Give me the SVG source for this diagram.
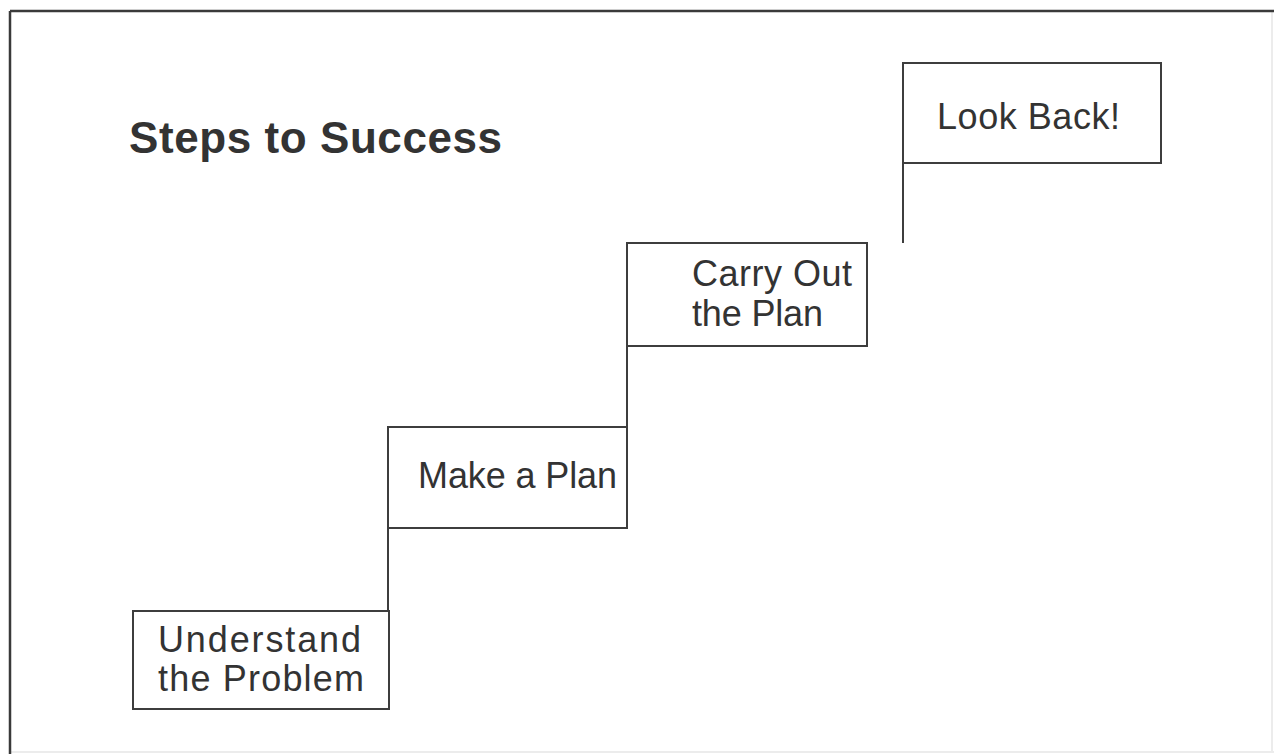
<svg xmlns="http://www.w3.org/2000/svg" width="1274" height="754" viewBox="0 0 1274 754">
  <style>
    .frame { stroke: #3a3a3a; stroke-width: 2.5; fill: none; }
    .faint { stroke: #ececec; stroke-width: 2; fill: none; }
    .step { fill: #ffffff; stroke: #3d3d3d; stroke-width: 2; }
    .riser { stroke: #3d3d3d; stroke-width: 2; fill: none; }
    .label { font-family: "Liberation Sans", Arial, sans-serif; font-size: 36px; fill: #333333; }
    .title { font-family: "Liberation Sans", Arial, sans-serif; font-size: 44px; font-weight: bold; fill: #333333; }
  </style>
  <rect width="1274" height="754" fill="#ffffff"/>

  <!-- page frame -->
  <g id="frame">
    <line class="faint" x1="10" y1="752" x2="1274" y2="752"/>
    <line class="faint" x1="1272" y1="11" x2="1272" y2="752"/>
    <line class="frame" x1="10" y1="11" x2="1274" y2="11"/>
    <line class="frame" x1="10" y1="11" x2="10" y2="754"/>
  </g>

  <text id="title" class="title" x="129" y="153" textLength="373" lengthAdjust="spacing">Steps to Success</text>

  <!-- risers joining each step to the next -->
  <g id="connectors">
    <line class="riser" x1="388" y1="528" x2="388" y2="611"/>
    <line class="riser" x1="627" y1="346" x2="627" y2="427"/>
    <line class="riser" x1="903" y1="163" x2="903" y2="243"/>
  </g>

  <g id="step-understand">
    <rect class="step" x="133" y="611" width="256" height="98"/>
    <text class="label" x="158" y="652" textLength="203" lengthAdjust="spacing">Understand</text>
    <text class="label" x="158" y="691" textLength="206" lengthAdjust="spacing">the Problem</text>
  </g>

  <g id="step-make-plan">
    <rect class="step" x="388" y="427" width="239" height="101"/>
    <text class="label" x="418" y="488" textLength="199" lengthAdjust="spacing">Make a Plan</text>
  </g>

  <g id="step-carry-out">
    <rect class="step" x="627" y="243" width="240" height="103"/>
    <text class="label" x="692" y="286" textLength="160" lengthAdjust="spacing">Carry Out</text>
    <text class="label" x="692" y="326" textLength="131" lengthAdjust="spacing">the Plan</text>
  </g>

  <g id="step-look-back">
    <rect class="step" x="903" y="63" width="258" height="100"/>
    <text class="label" x="937" y="129" textLength="183" lengthAdjust="spacing">Look Back!</text>
  </g>
</svg>
